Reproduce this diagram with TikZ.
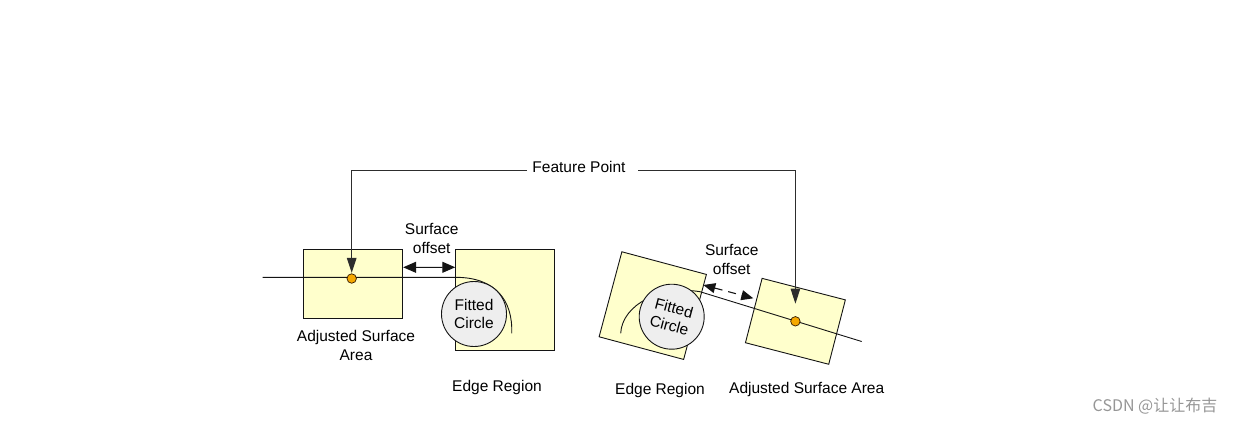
\documentclass[tikz,border=0pt]{standalone}
\usepackage{fontspec}
\setmainfont{Liberation Sans}
\newfontfamily\cjkfont{Noto Sans CJK SC}
\usetikzlibrary{arrows.meta}
\definecolor{boxfill}{RGB}{255,255,204}
\definecolor{circfill}{RGB}{238,238,238}
\definecolor{dotfill}{RGB}{245,168,0}
\definecolor{linecol}{RGB}{20,20,20}
\definecolor{featcol}{RGB}{45,45,45}
\definecolor{wmcol}{RGB}{150,150,150}
\begin{document}
\begin{tikzpicture}[x=1pt,y=-1pt,
  lbl/.style={font=\fontsize{15.5}{19}\selectfont, text=black, align=center, inner sep=0pt},
  region/.style={draw=linecol, fill=boxfill, line width=0.9pt, inner sep=0pt},
  fitted/.style={circle, draw=linecol, fill=circfill, line width=0.9pt, minimum size=65pt, inner sep=0pt, align=center, font=\fontsize{15.5}{18}\selectfont},
  fdot/.style={circle, draw=black!80!orange, fill=dotfill, line width=0.7pt, minimum size=9.5pt, inner sep=0pt},
  thin/.style={draw=linecol, line width=0.9pt},
  feat/.style={draw=featcol, line width=1.1pt, -{Triangle[length=15pt,width=9.5pt]}},
  dbl/.style={draw=linecol, line width=1.1pt, {Triangle[length=13pt,width=11pt]}-{Triangle[length=13pt,width=11pt]}},
  dsh/.style={draw=linecol, line width=1.1pt, dash pattern=on 8pt off 6pt, {Triangle[length=12pt,width=10pt]}-{Triangle[length=12pt,width=10pt]}}
]
\useasboundingbox (0,0) rectangle (1238,424);

% ---------- left diagram ----------
\node[region, minimum width=99.4pt, minimum height=69.3pt] (lbox) at (353,283.65) {};
\node[region, minimum width=98.6pt, minimum height=101.7pt] (ebox) at (505,299.85) {};
\coordinate (lstart) at (262.7,277.3);
\coordinate (larc) at (455.7,277.3);
\coordinate (larcend) at (511.7,333.3);
\draw[thin] (lstart) -- (larc) .. controls (495,277.3) and (513,300) .. (larcend);
\node[fitted] (lcirc) at (474,314) {Fitted\\Circle};
\node[fdot] (ldot) at (351.7,278.5) {};
\coordinate (lsa) at ([yshift=16.35pt]lbox.east);
\coordinate (lsb) at ([yshift=32.55pt]ebox.west);
\draw[dbl] (lsa) -- (lsb);
\node[lbl] (lso) at (431.7,238.5) {Surface\\offset};
\node[lbl] (lasa) at (356,345) {Adjusted Surface\\Area};
\node[lbl] (ler) at (497,387) {Edge Region};

% ---------- right diagram ----------
\node[region, rotate=-15, minimum width=87.5pt, minimum height=88pt] (rebox) at (652.75,305.6) {};
\node[region, rotate=-14.5, minimum width=86pt, minimum height=66.5pt] (rbox) at (795.4,321.3) {};
\coordinate (rarc) at (700,291.7);
\coordinate (rarcend) at (620.7,333.3);
\coordinate (rend) at (861.7,341.5);
\draw[thin] (rend) -- (rarc) .. controls (660,285) and (622,305) .. (rarcend);
\node[fitted, rotate=-15] (rcirc) at (671.7,316.7) {Fitted\\Circle};
\node[fdot] (rdot) at (795.4,321.3) {};
\coordinate (rsa) at (703.3,285);
\coordinate (rsb) at (753.3,298.3);
\draw[dsh] (rsa) -- (rsb);
\node[lbl] (rso) at (731.7,259.5) {Surface\\offset};
\node[lbl] (rer) at (660,390) {Edge Region};
\node[lbl] (rasa) at (806.7,389) {Adjusted Surface Area};

% ---------- feature point ----------
\node[lbl] (fp) at (579,167) {Feature Point};
\coordinate (fl) at (527,170.7);
\coordinate (fr) at (638.3,170.7);
\draw[feat, shorten >=0.5pt] (fl) -| (ldot.north);
\draw[feat, shorten >=12.5pt] (fr) -| (rdot.north);

% ---------- watermark ----------
\node[font=\cjkfont\fontsize{16}{19}\selectfont, text=wmcol, inner sep=0pt] (wm) at (1155,406) {CSDN @让让布吉};
\end{tikzpicture}
\end{document}
